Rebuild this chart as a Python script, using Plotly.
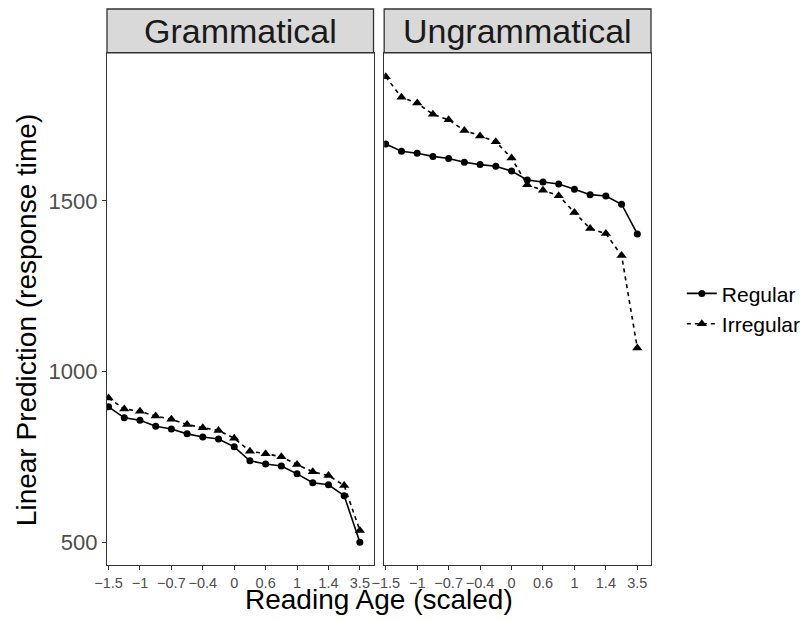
import plotly.graph_objects as go

# Data
positions = list(range(17))
tick_positions = [0, 2, 4, 6, 8, 10, 12, 14, 16]
tick_labels = ["\u22121.5", "\u22121", "\u22120.7", "\u22120.4", "0", "0.6", "1", "1.4", "3.5"]

gram_regular = [897, 865, 858, 840, 832, 818, 809, 803, 780, 739, 730, 724, 701, 675, 669, 637, 501]
gram_irregular = [923, 891, 884, 870, 861, 845, 836, 828, 805, 767, 760, 751, 728, 707, 696, 667, 535]
ungram_regular = [1666, 1645, 1639, 1630, 1624, 1613, 1606, 1601, 1587, 1561, 1555, 1549, 1534, 1518, 1514, 1490, 1403]
ungram_irregular = [1863, 1803, 1786, 1753, 1737, 1706, 1690, 1673, 1625, 1547, 1531, 1515, 1466, 1419, 1404, 1340, 1069]

panels = ["Grammatical", "Ungrammatical"]
series_names = ["Regular", "Irregular"]

FONT = "Liberation Sans"
W, H = 806, 621
PL, PR, PT, PB = 107, 654, 0, 565.5   # plot area in px (top margin 0 -> no auto-margin pad)
ML, MR, MT, MB = PL, W - PR, PT, H - PB
pw = W - ML - MR
ph = H - MT - MB

def px_x(x):  # pixel x -> paper
    return (x - PL) / pw

def px_y(y):  # pixel y -> paper
    return (PB - y) / ph

left_dom = [0, px_x(375)]
right_dom = [px_x(385.7), 1]
ytop = px_y(53)
strip_top = px_y(9)

fig = go.Figure()

def add(xa, ya, vals, name, show):
    is_reg = name == "Regular"
    fig.add_trace(go.Scatter(
        x=positions, y=vals, xaxis=xa, yaxis=ya, name=name,
        mode="lines+markers", showlegend=show, legendgroup=name,
        line=dict(color="black", width=1.6, dash="solid" if is_reg else "4px,4px"),
        marker=dict(color="black", size=7 if is_reg else 9,
                    symbol="circle" if is_reg else "triangle-up"),
    ))

add("x", "y", gram_regular, series_names[0], True)
add("x", "y", gram_irregular, series_names[1], True)
add("x2", "y2", ungram_regular, series_names[0], False)
add("x2", "y2", ungram_irregular, series_names[1], False)

axcol = "#333333"
xcommon = dict(range=[-0.1, 16.87], tickvals=tick_positions, ticktext=tick_labels,
               tickangle=0, automargin=False,
               showline=True, mirror=True, linecolor=axcol, linewidth=1.3,
               ticks="outside", ticklen=4, tickcolor=axcol, showgrid=False, zeroline=False,
               tickfont=dict(family=FONT, size=14.5, color="#4d4d4d"))
ycommon = dict(range=[434.2, 1932.7], domain=[0, ytop], tickvals=[500, 1000, 1500],
               automargin=False,
               showline=True, mirror=True, linecolor=axcol, linewidth=1.3,
               showgrid=False, zeroline=False)

fig.update_layout(
    width=W, height=H, margin=dict(l=ML, r=MR, t=MT, b=MB, pad=0),
    paper_bgcolor="white", plot_bgcolor="white",
    font=dict(family=FONT, color="black"),
    xaxis=dict(domain=left_dom, anchor="y", **xcommon),
    xaxis2=dict(domain=right_dom, anchor="y2", **xcommon),
    yaxis=dict(anchor="x", ticks="outside", ticklen=4, tickcolor=axcol,
               tickfont=dict(family=FONT, size=22, color="#4d4d4d"),
               **ycommon),
    yaxis2=dict(anchor="x2", matches="y", showticklabels=False, ticks="", **ycommon),
    legend=dict(x=px_x(685), xanchor="left", y=px_y(309), yanchor="middle",
                font=dict(family=FONT, size=21, color="black"), bgcolor="rgba(0,0,0,0)",
                tracegroupgap=0, itemwidth=30),
    showlegend=True,
)

fig.add_annotation(text="Reading Age (scaled)", xref="paper", yref="paper",
                   x=0.5 * (left_dom[0] + right_dom[1]), y=px_y(600),
                   showarrow=False, xanchor="center", yanchor="middle",
                   font=dict(family=FONT, size=28, color="black"))
fig.add_annotation(text="Linear Prediction (response time)", xref="paper", yref="paper",
                   x=px_x(26), y=px_y(320), textangle=-90,
                   showarrow=False, xanchor="center", yanchor="middle",
                   font=dict(family=FONT, size=28, color="black"))

for dom, label in zip([left_dom, right_dom], panels):
    fig.add_shape(type="rect", xref="paper", yref="paper",
                  x0=dom[0], x1=dom[1], y0=ytop, y1=strip_top,
                  fillcolor="#d9d9d9", line=dict(color=axcol, width=1.3), layer="below")
    fig.add_annotation(text=label, xref="paper", yref="paper",
                       x=(dom[0] + dom[1]) / 2, y=(ytop + strip_top) / 2,
                       showarrow=False, xanchor="center", yanchor="middle",
                       font=dict(family=FONT, size=34, color="#1a1a1a"))

fig.write_html("out.html", config={"displayModeBar": False},
               post_script="document.body.style.margin='0px';")
